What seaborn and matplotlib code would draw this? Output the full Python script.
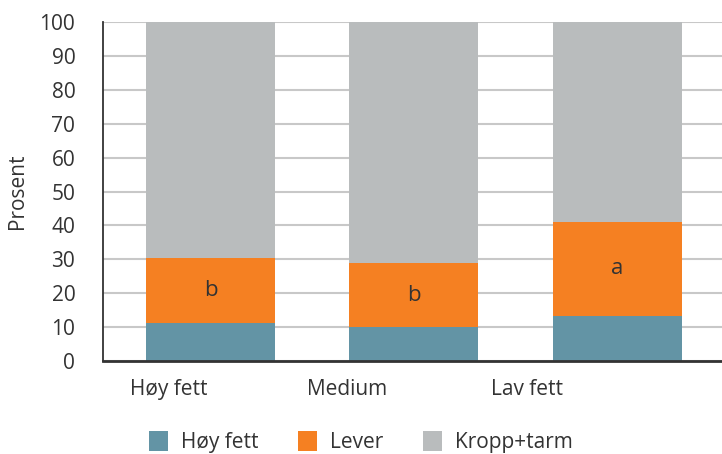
import numpy as np
import pandas as pd
import matplotlib
matplotlib.use("Agg")
import matplotlib.pyplot as plt
import seaborn as sns

# data
groups = ["Høy fett", "Medium", "Lav fett"]
hoy_fett = [11.1, 10.0, 13.3]
lever = [19.4, 18.9, 27.7]
kropp_tarm = [69.5, 71.1, 59.0]
letters = ["b", "b", "a"]

series_names = ["Høy fett", "Lever", "Kropp+tarm"]
colors = ["#6394a5", "#f58022", "#b9bcbd"]

sns.set_style("white")
plt.rcParams["font.family"] = ["Open Sans", "DejaVu Sans"]

fig = plt.figure(figsize=(7.22, 4.54), dpi=100)
ax = fig.add_axes([0.1427, 0.2048, 0.8573, 0.7467])

bottom = np.zeros(len(groups))
for name, vals, col in zip(series_names, [hoy_fett, lever, kropp_tarm], colors):
    df = pd.DataFrame({"gruppe": groups, "verdi": vals})
    sns.barplot(data=df, x="gruppe", y="verdi", color=col, bottom=bottom,
                width=0.634, ax=ax, label=name, zorder=3, linewidth=0,
                saturation=1)
    bottom = bottom + np.array(vals)

# significance letters in the orange segment
for i, let in enumerate(letters):
    ax.text(i, hoy_fett[i] + lever[i] / 2, let, ha="center", va="center",
            fontsize=16, color="#333333", zorder=4)

ax.set_ylim(0, 100)
ax.set_xlim(-0.528, 2.514)
ax.set_yticks(range(0, 101, 10))
# the category labels sit a bit left of the bars in the original
ax.set_xticks([-0.204, 0.673, 1.555])
ax.set_xticklabels(groups)
ax.yaxis.grid(True, color="#c8c8c8", linewidth=1.5, zorder=0)
ax.set_axisbelow(True)
ax.set_xlabel("")
ax.set_ylabel("Prosent", fontsize=15, color="#333333", labelpad=8.5)
ax.tick_params(axis="y", length=0, pad=20, labelsize=15, labelcolor="#333333")
ax.tick_params(axis="x", length=0, pad=13, labelsize=15, labelcolor="#333333")

for s in ["top", "right"]:
    ax.spines[s].set_visible(False)
ax.spines["left"].set_color("#333333")
ax.spines["left"].set_linewidth(1.3)
ax.spines["bottom"].set_color("#333333")
ax.spines["bottom"].set_linewidth(2)
ax.spines["left"].set_zorder(5)
ax.spines["bottom"].set_zorder(5)

handles, labels = ax.get_legend_handles_labels()
if ax.legend_:
    ax.legend_.remove()
fig.legend(handles, labels, loc="center", bbox_to_anchor=(0.5, 0.027), ncol=3,
           frameon=False, fontsize=15, handlelength=0.91, handleheight=1.15,
           columnspacing=1.9, handletextpad=0.63, labelcolor="#333333")

fig.savefig("out.png", dpi=100)
